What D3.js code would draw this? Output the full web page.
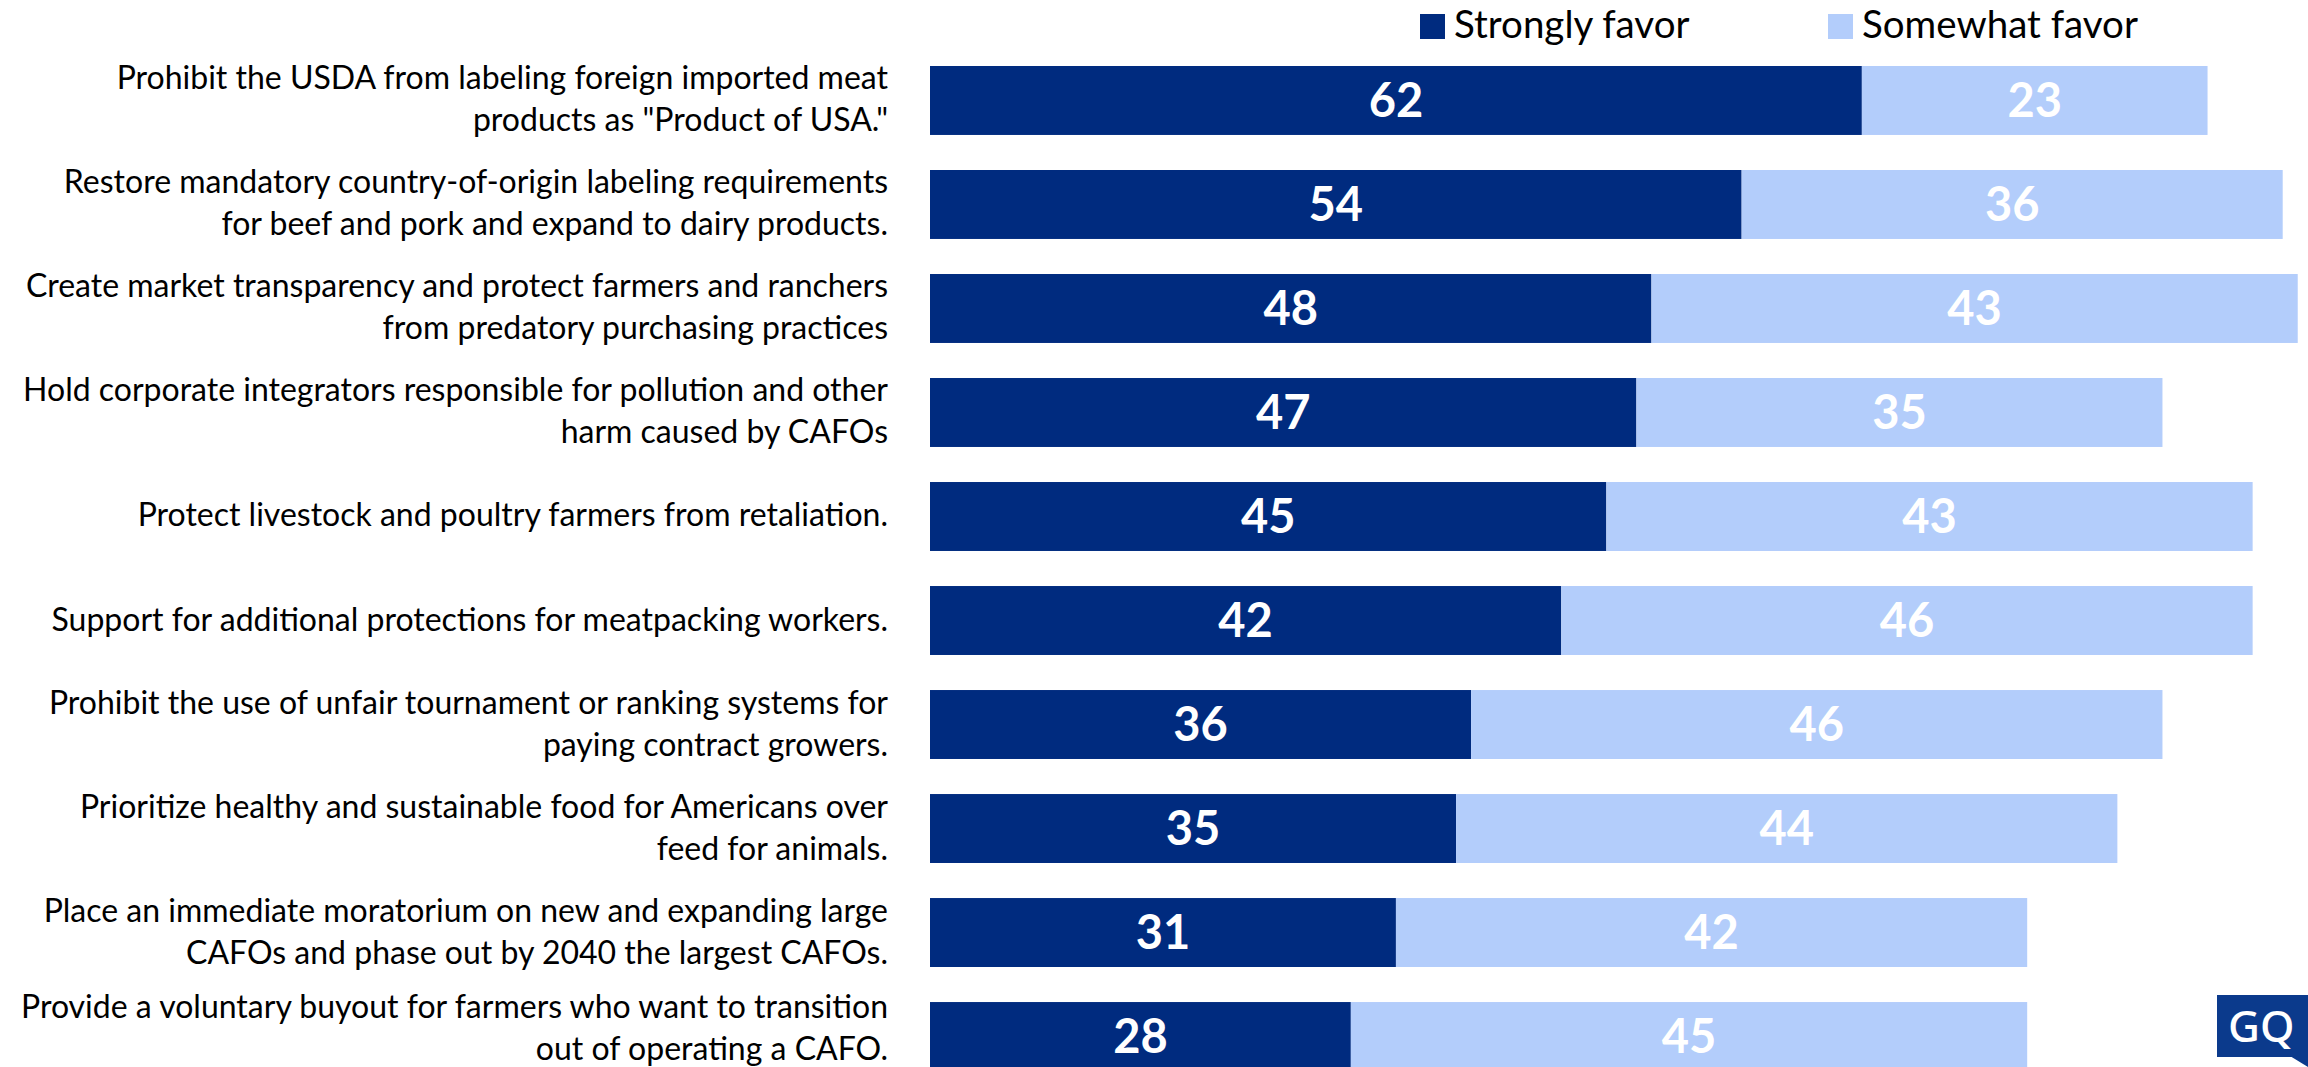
<!DOCTYPE html>
<html>
<head>
<meta charset="utf-8">
<script src="https://cdn.jsdelivr.net/npm/d3@7"></script>
<style>
  body { margin: 0; background: #fff; }
  svg { display: block; font-family: Lato, "Open Sans", sans-serif; }
</style>
</head>
<body>
<svg id="chart" width="2308" height="1067"></svg>
<script>
'use strict'

const categories = [
    ['Prohibit the USDA from labeling foreign imported meat', 'products as "Product of USA."'],
    ['Restore mandatory country-of-origin labeling requirements', 'for beef and pork and expand to dairy products.'],
    ['Create market transparency and protect farmers and ranchers', 'from predatory purchasing practices'],
    ['Hold corporate integrators responsible for pollution and other', 'harm caused by CAFOs'],
    ['Protect livestock and poultry farmers from retaliation.'],
    ['Support for additional protections for meatpacking workers.'],
    ['Prohibit the use of unfair tournament or ranking systems for', 'paying contract growers.'],
    ['Prioritize healthy and sustainable food for Americans over', 'feed for animals.'],
    ['Place an immediate moratorium on new and expanding large', 'CAFOs and phase out by 2040 the largest CAFOs.'],
    ['Provide a voluntary buyout for farmers who want to transition', 'out of operating a CAFO.']
]
const strongly = [62, 54, 48, 47, 45, 42, 36, 35, 31, 28]
const somewhat = [23, 36, 43, 35, 43, 46, 46, 44, 42, 45]
const seriesNames = ['Strongly favor', 'Somewhat favor']
const colors = ['#002b7f', '#b3cdfb']

const width = 2308
const height = 1067

const svg = d3.select('#chart')

const rows = categories.map((c, i) => ({
    id: i, lines: c, s: strongly[i], w: somewhat[i]
}))

const x = d3.scaleLinear()
    .domain([0, 100])
    .range([930, 2433])

const y = d3.scaleBand()
    .domain(rows.map(d => d.id))
    .range([66, 1071])
    .paddingInner(0.337)
    .paddingOuter(0)

const g = svg.append('g')

// dark part
g.selectAll('rect.s').data(rows).join('rect')
    .attr('class', 's')
    .attr('x', x(0))
    .attr('y', d => y(d.id))
    .attr('width', d => x(d.s) - x(0))
    .attr('height', y.bandwidth())
    .style('fill', colors[0])

// light part
g.selectAll('rect.w').data(rows).join('rect')
    .attr('class', 'w')
    .attr('x', d => x(d.s))
    .attr('y', d => y(d.id))
    .attr('width', d => x(d.s + d.w) - x(d.s))
    .attr('height', y.bandwidth())
    .style('fill', colors[1])

// value labels
function valueLabels(cls, x0, x1, val) {
    g.selectAll('text.' + cls).data(rows).join('text')
        .attr('class', cls)
        .attr('x', d => (x(x0(d)) + x(x1(d))) / 2)
        .attr('y', d => y(d.id) + y.bandwidth() / 2)
        .attr('dy', '0.36em')
        .attr('text-anchor', 'middle')
        .style('font-size', '47px')
        .style('font-weight', 'bold')
        .style('fill', '#fff')
        .text(val)
}
valueLabels('vs', d => 0, d => d.s, d => d.s)
valueLabels('vw', d => d.s, d => d.s + d.w, d => d.w)

// category labels, right aligned
const lineH = 42
const maxBase = height - 7
const labels = g.selectAll('text.cat').data(rows).join('text')
    .attr('class', 'cat')
    .attr('text-anchor', 'end')
    .style('font-size', '32px')
    .style('fill', '#000')

labels.selectAll('tspan').data(d => {
        const n = d.lines.length
        const cy = y(d.id) + y.bandwidth() / 2
        let base = d.lines.map((t, k) => cy + (k - (n - 1) / 2) * lineH + 10)
        // keep the last line inside the picture
        const shift = Math.max(0, base[n - 1] - maxBase)
        return d.lines.map((t, k) => ({ t, b: base[k] - shift }))
    })
    .join('tspan')
    .attr('x', 888)
    .attr('y', d => d.b)
    .text(d => d.t)

// legend
const legendX = [1420, 1828]
const legend = svg.append('g')
seriesNames.forEach((name, i) => {
    legend.append('rect')
        .attr('x', legendX[i])
        .attr('y', 14)
        .attr('width', 25)
        .attr('height', 25)
        .style('fill', colors[i])
    legend.append('text')
        .attr('x', legendX[i] + 34)
        .attr('y', 38)
        .style('font-size', '38.5px')
        .style('fill', '#000')
        .text(name)
})

// GQ badge
const badge = svg.append('g')
badge.append('rect')
    .attr('x', 2217).attr('y', 995)
    .attr('width', 91).attr('height', 62)
    .style('fill', '#0b3a8c')
badge.append('path')
    .attr('d', 'M2290,1056 L2308,1067 L2308,1056 Z')
    .style('fill', '#0b3a8c')
badge.append('text')
    .attr('x', 2228).attr('y', 1026)
    .attr('dy', '0.36em')
    .style('font-family', '"Noto Sans", sans-serif')
    .style('font-size', '44px')
    .style('font-weight', '500')
    .style('fill', '#fff')
    .text('GQ')
</script>
</body>
</html>
